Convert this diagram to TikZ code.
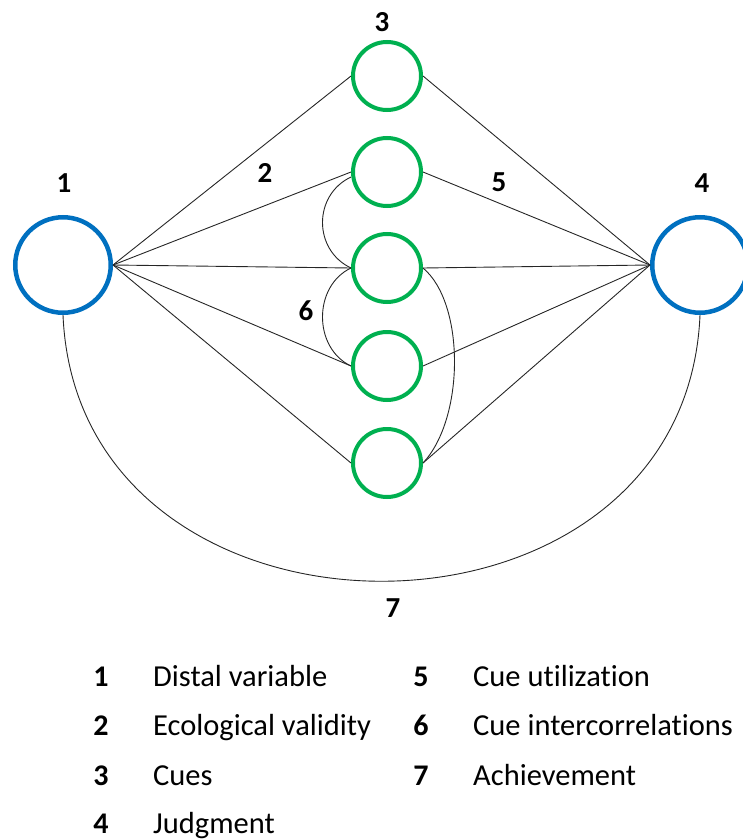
\documentclass[tikz,border=0pt]{standalone}
\usepackage{fontspec}
\setmainfont[Ligatures=NoCommon]{Carlito}
\definecolor{cblue}{RGB}{0,112,192}
\definecolor{cgreen}{RGB}{0,176,80}
\begin{document}
\begin{tikzpicture}[x=1pt,y=-1pt,
  big/.style={circle,draw=cblue,line width=4.5pt,minimum size=95.5pt,inner sep=0pt},
  cue/.style={circle,draw=cgreen,line width=4pt,minimum size=68pt,inner sep=0pt},
  conn/.style={draw=black!85,line width=0.9pt},
  lab/.style={font=\fontsize{29}{30}\selectfont\bfseries,inner sep=0pt},
  num/.style={font=\fontsize{30}{31}\selectfont\bfseries,inner sep=0pt,anchor=base},
  txt/.style={font=\fontsize{30.5}{31}\selectfont,inner sep=0pt,anchor=base west}]
\useasboundingbox (0,0) rectangle (743,840);
\node[big] (L) at (63,265) {};
\node[big] (R) at (700,265) {};
\node[cue] (c1) at (387,76) {};
\node[cue] (c2) at (387,172) {};
\node[cue] (c3) at (387,268) {};
\node[cue] (c4) at (387,366) {};
\node[cue] (c5) at (387,463) {};
\foreach \i in {1,...,5}{
  \draw[conn] (L.east) -- (c\i.west);
  \draw[conn] (c\i.east) -- (R.west);
}
\draw[conn] ([yshift=-5pt]c2.west) .. controls +(-38,18) and +(-38,-18) .. (c3.west);
\draw[conn] (c3.west) .. controls +(-38,18) and +(-38,-18) .. (c4.west);
\draw[conn] (c3.east) .. controls +(42,35) and +(42,-45) .. (c5.east);
\draw[conn] (L.south) .. controls +(15,355) and +(-15,355) .. (R.south);
\node[lab] (l1) at (64,183) {1};
\node[lab] (l2) at (265,173) {2};
\node[lab] (l3) at (382,22) {3};
\node[lab] (l4) at (702,183) {4};
\node[lab] (l5) at (499,182) {5};
\node[lab] (l6) at (306,311) {6};
\node[lab] (l7) at (393,608) {7};
\node[num] (n1) at (101,686) {1};
\node[txt] (t1) at (153,686) {Distal variable};
\node[num] (n2) at (101,735) {2};
\node[txt] (t2) at (153,735) {Ecological validity};
\node[num] (n3) at (101,785) {3};
\node[txt] (t3) at (153,785) {Cues};
\node[num] (n4) at (101,833) {4};
\node[txt] (t4) at (153,833) {Judgment};
\node[num] (n5) at (421,686) {5};
\node[txt] (t5) at (473,686) {Cue utilization};
\node[num] (n6) at (421,735) {6};
\node[txt] (t6) at (473,735) {Cue intercorrelations};
\node[num] (n7) at (421,785) {7};
\node[txt] (t7) at (473,785) {Achievement};
\end{tikzpicture}
\end{document}
